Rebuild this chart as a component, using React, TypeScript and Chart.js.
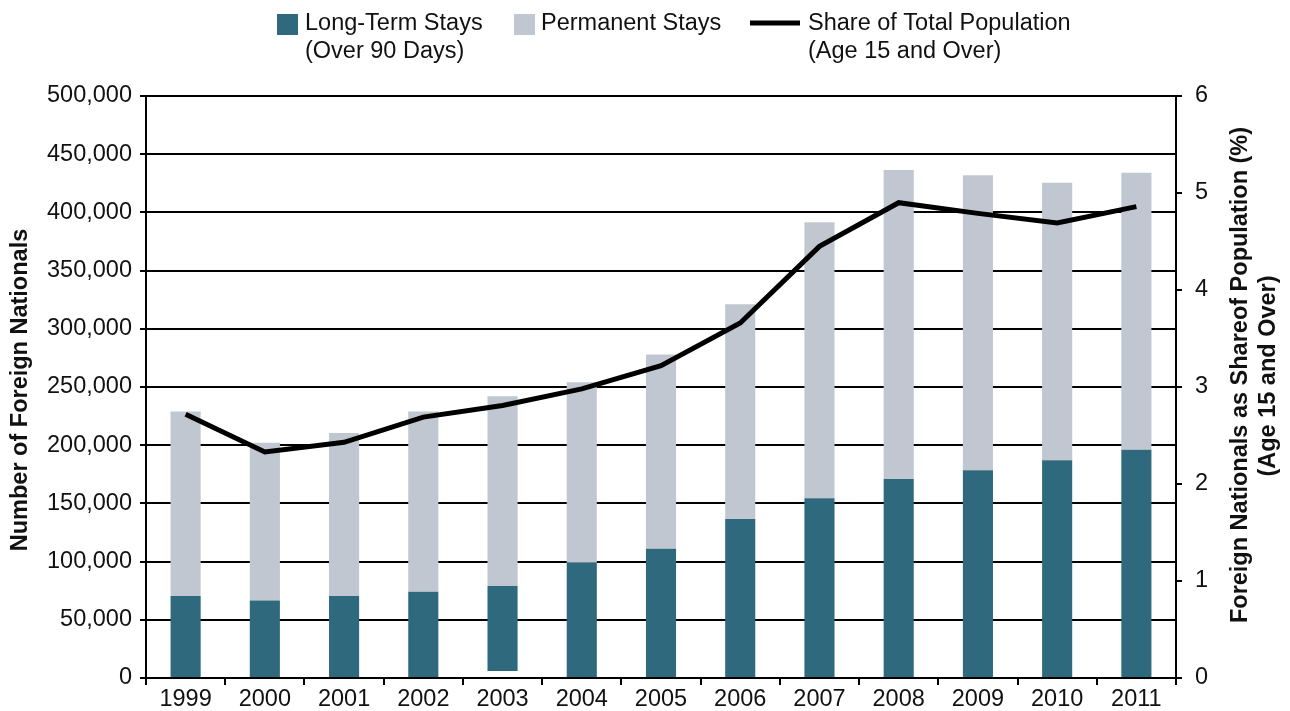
import React, { useEffect, useRef } from "react";
import { Chart, registerables } from "chart.js";

Chart.register(...registerables);

const years = ["1999", "2000", "2001", "2002", "2003", "2004", "2005", "2006", "2007", "2008", "2009", "2010", "2011"];
// Long-term stays (over 90 days): base and top of the dark bar segment
const longTermBase = [0, 0, 0, 0, 6000, 0, 0, 0, 0, 0, 0, 0, 0];
const longTermStays = [70500, 66500, 70500, 74000, 79000, 99000, 111000, 136500, 154500, 171000, 178500, 187000, 196000];
// Total of long-term + permanent stays (top of bar)
const totalStays = [229000, 202000, 210500, 229000, 242000, 254000, 278000, 321000, 391500, 436500, 432000, 425500, 434000];
// Share of total population, age 15 and over (%)
const sharePct = [2.72, 2.33, 2.43, 2.69, 2.81, 2.98, 3.22, 3.66, 4.45, 4.9, 4.79, 4.69, 4.86];

const leftTicks = [0, 50000, 100000, 150000, 200000, 250000, 300000, 350000, 400000, 450000, 500000];

const DARK = "#2F697D";
const GRAY = "#C0C7D1";
const FONT = '"Liberation Sans", Arial, Helvetica, sans-serif';

const overlayPlugin = {
  id: "overlay",
  afterDraw(chart: any) {
    const ctx = chart.ctx;
    ctx.save();
    ctx.fillStyle = "#111";
    ctx.font = `23.5px ${FONT}`;
    ctx.textBaseline = "alphabetic";
    ctx.textAlign = "left";
    // legend item 1
    ctx.fillStyle = DARK;
    ctx.fillRect(277, 14, 21, 21);
    ctx.fillStyle = "#111";
    ctx.fillText("Long-Term Stays", 305, 30);
    ctx.fillText("(Over 90 Days)", 305, 58);
    // legend item 2
    ctx.fillStyle = GRAY;
    ctx.fillRect(514, 14, 21, 21);
    ctx.fillStyle = "#111";
    ctx.fillText("Permanent Stays", 541, 30);
    // legend item 3
    ctx.strokeStyle = "#000";
    ctx.lineWidth = 5;
    ctx.beginPath();
    ctx.moveTo(750, 23);
    ctx.lineTo(800, 23);
    ctx.stroke();
    ctx.fillText("Share of Total Population", 808, 30);
    ctx.fillText("(Age 15 and Over)", 808, 58);

    // axis titles
    ctx.font = `bold 23.5px ${FONT}`;
    ctx.textAlign = "center";
    ctx.textBaseline = "middle";
    ctx.save();
    ctx.translate(21, 390);
    ctx.rotate(-Math.PI / 2);
    ctx.fillText("Number of Foreign Nationals", 0, 0);
    ctx.restore();
    ctx.save();
    ctx.translate(1241, 375);
    ctx.rotate(-Math.PI / 2);
    ctx.fillText("Foreign Nationals as Shareof Population (%)", 0, 0);
    ctx.restore();
    ctx.save();
    ctx.translate(1269, 376);
    ctx.rotate(-Math.PI / 2);
    ctx.fillText("(Age 15 and Over)", 0, 0);
    ctx.restore();
    ctx.restore();
  },
};

export default function App() {
  const ref = useRef<HTMLCanvasElement>(null);

  useEffect(() => {
    document.body.style.margin = "0";
    const canvas = ref.current!;
    const darkData = years.map((_, i) => [longTermBase[i], longTermStays[i]]);
    const grayData = years.map((_, i) => [longTermStays[i], totalStays[i]]);

    const chart = new Chart(canvas, {
      type: "bar",
      data: {
        labels: years,
        datasets: [
          {
            type: "line",
            label: "Share of Total Population (Age 15 and Over)",
            data: sharePct,
            borderColor: "#000",
            borderWidth: 5,
            pointRadius: 0,
            tension: 0,
            yAxisID: "y1",
            order: 0,
          } as any,
          {
            label: "Long-Term Stays (Over 90 Days)",
            data: darkData as any,
            backgroundColor: DARK,
            yAxisID: "y",
            grouped: false,
            barPercentage: 0.38,
            categoryPercentage: 1,
            order: 1,
          },
          {
            label: "Permanent Stays",
            data: grayData as any,
            backgroundColor: GRAY,
            yAxisID: "y",
            grouped: false,
            barPercentage: 0.38,
            categoryPercentage: 1,
            order: 2,
          },
        ],
      },
      options: {
        animation: false,
        responsive: false,
        maintainAspectRatio: false,
        layout: { padding: { top: 96, left: 0, right: 0, bottom: 0 } },
        plugins: {
          legend: { display: false },
          tooltip: { enabled: false },
        },
        scales: {
          x: {
            grid: {
              display: true,
              drawOnChartArea: false,
              drawTicks: true,
              tickLength: 7,
              offset: true,
              color: "#000",
              lineWidth: 2,
            },
            border: { display: true, color: "#000", width: 2 },
            ticks: { color: "#111", font: { family: FONT, size: 23.5 }, padding: 0, maxRotation: 0 },
            afterFit: (s: any) => {
              s.height = 33;
            },
          },
          y: {
            position: "left",
            min: 0,
            max: 500000,
            afterBuildTicks: (s: any) => {
              s.ticks = leftTicks.map((v) => ({ value: v }));
            },
            grid: { color: "#000", lineWidth: 2, drawTicks: true, tickLength: 6 },
            border: { display: true, color: "#000", width: 2 },
            ticks: {
              color: "#111",
              font: { family: FONT, size: 23.5 },
              padding: 8,
              callback: (v: any) => Number(v).toLocaleString("en-US"),
            },
            afterFit: (s: any) => {
              s.width = 146;
            },
          },
          y1: {
            position: "right",
            min: 0,
            max: 6,
            ticks: { stepSize: 1, color: "#111", font: { family: FONT, size: 23.5 }, padding: 13 },
            grid: { drawOnChartArea: false, drawTicks: true, tickLength: 6, color: "#000", lineWidth: 2 },
            border: { display: true, color: "#000", width: 2 },
            afterFit: (s: any) => {
              s.width = 114;
            },
          },
        },
      },
      plugins: [overlayPlugin],
    });
    return () => chart.destroy();
  }, []);

  return (
    <div style={{ width: 1290, height: 711, background: "#fff" }}>
      <canvas ref={ref} width={1290} height={711} style={{ display: "block", width: 1290, height: 711 }} />
    </div>
  );
}
